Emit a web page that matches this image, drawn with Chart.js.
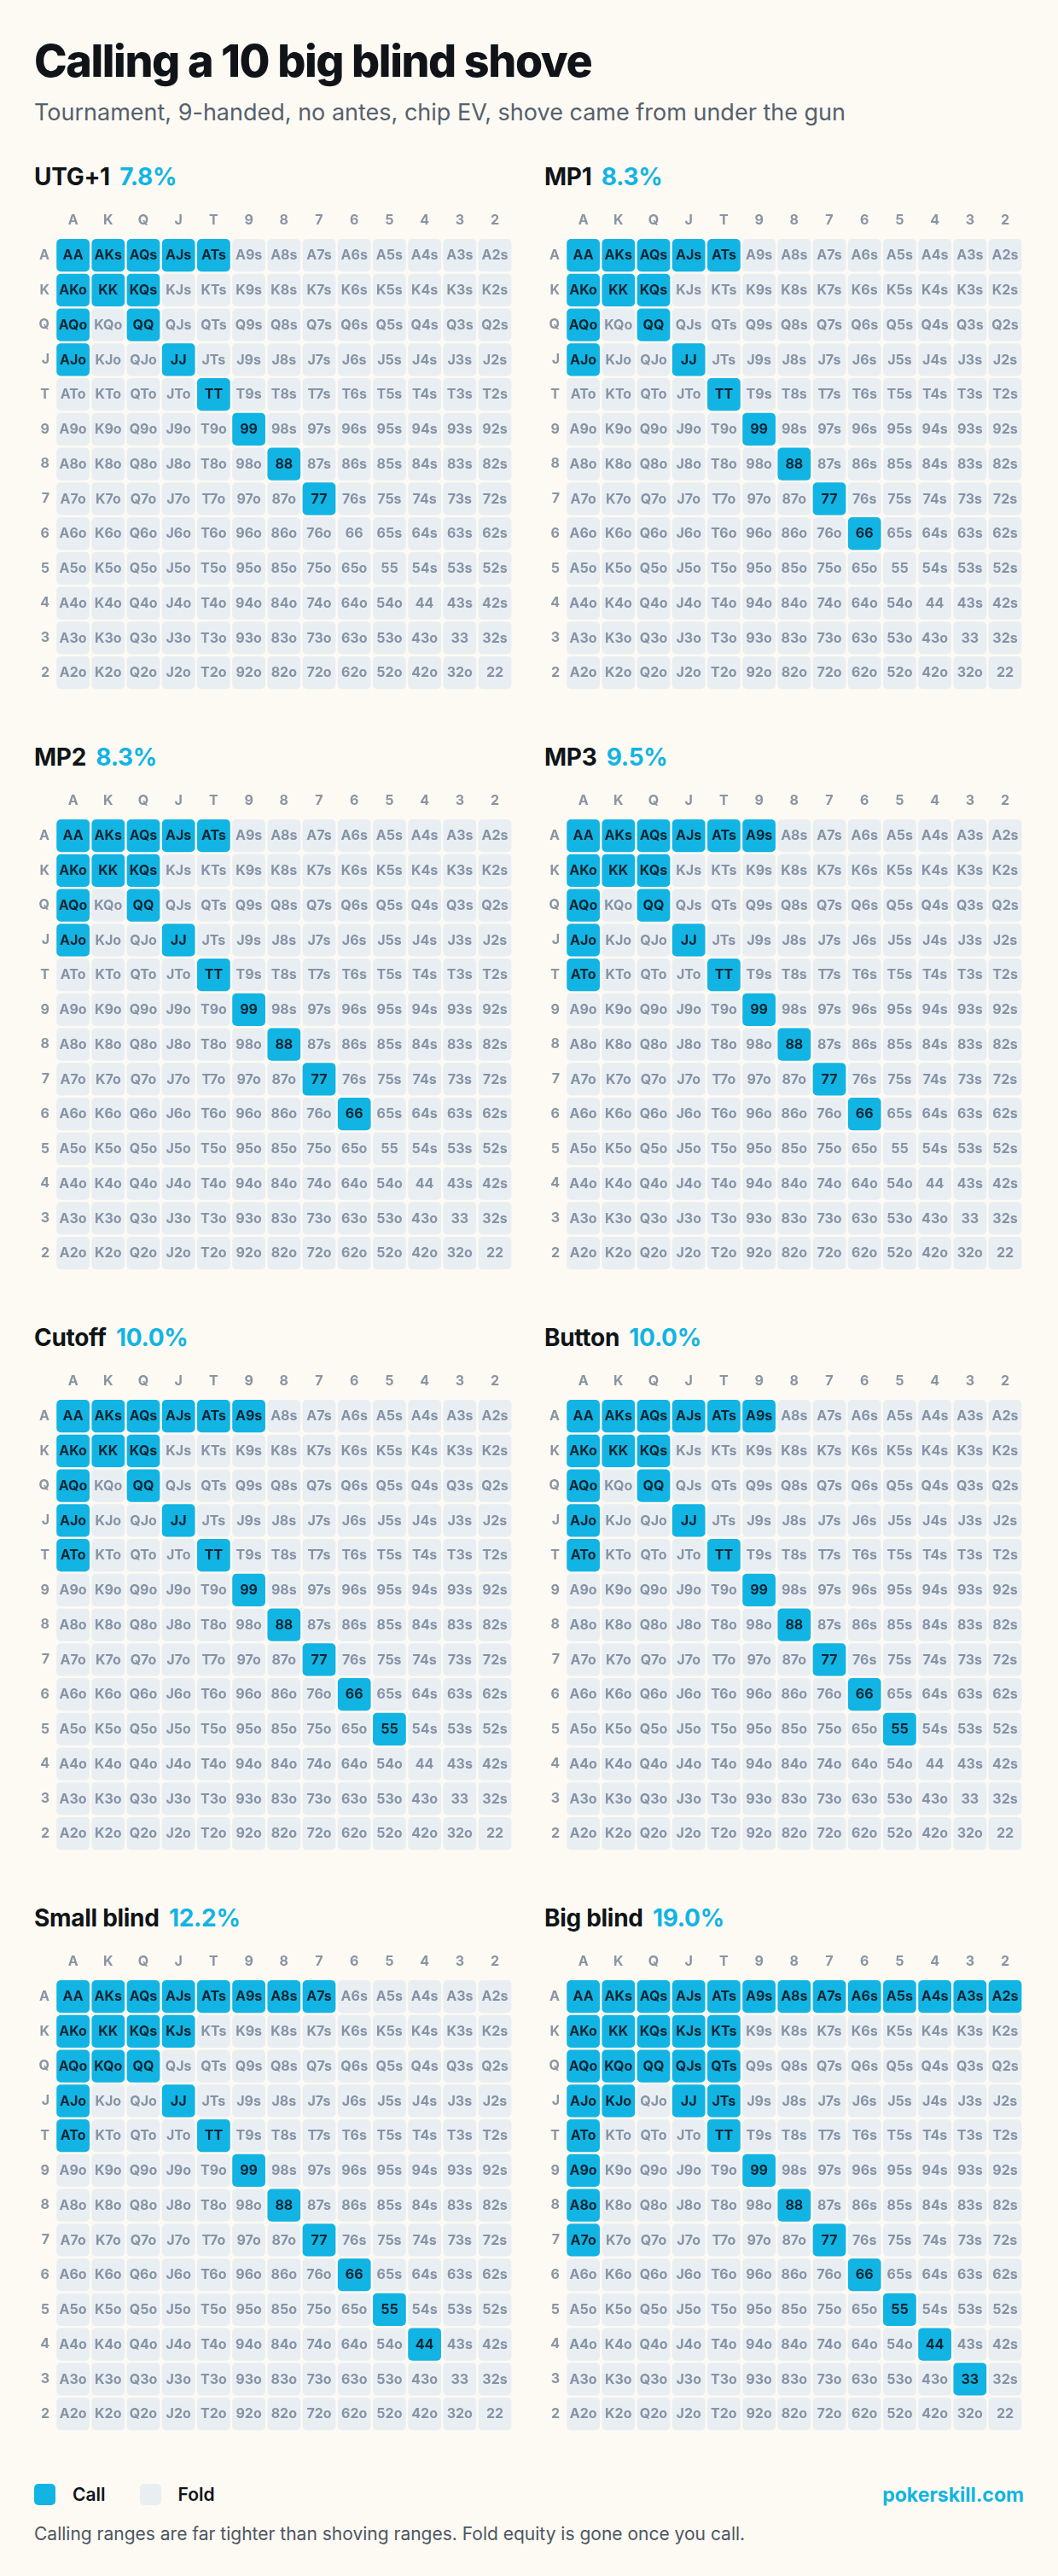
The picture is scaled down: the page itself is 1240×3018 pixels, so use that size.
<!DOCTYPE html>
<html>
<head>
<meta charset="utf-8">
<title>Calling a 10 big blind shove</title>
<script src="https://cdn.jsdelivr.net/npm/chart.js@4.4.1/dist/chart.umd.min.js"></script>
<style>
  html, body { margin: 0; padding: 0; }
  body {
    background: #fcfaf3;
    font-family: Inter, "Noto Sans", "DejaVu Sans", sans-serif;
    color: #101418;
    width: 1240px;
    height: 3018px;
    padding: 46px 0 0 40px;
    box-sizing: border-box;
  }
  h1 {
    margin: 0 0 20px 0;
    font-size: 52px;
    line-height: 52px;
    font-weight: 800;
    letter-spacing: -1.4px;
  }
  .sub {
    margin: 0 0 48px 0;
    font-size: 27px;
    line-height: 27px;
    color: #56606d;
  }
  .grid {
    display: grid;
    grid-template-columns: 562px 562px;
    column-gap: 36px;
    row-gap: 48px;
  }
  .panel h2 {
    margin: 0 0 19px 0;
    font-size: 28px;
    line-height: 28px;
    font-weight: 700;
    letter-spacing: -0.3px;
  }
  .panel h2 span { color: #12b4e3; margin-left: 5px; }
  .panel canvas { display: block; }
  .legend {
    margin-top: 45px;
    width: 1160px;
    height: 25px;
    display: flex;
    align-items: center;
    justify-content: space-between;
  }
  .keys { display: flex; align-items: center; }
  .sw { width: 25px; height: 25px; border-radius: 5px; margin-right: 20px; }
  .key { font-size: 21px; font-weight: 600; margin-right: 40px; }
  .brand { font-size: 23px; font-weight: 700; color: #12b4e3; }
  .note {
    margin-top: 23px;
    font-size: 21px;
    line-height: 21px;
    color: #4e5662;
  }
</style>
</head>
<body>
<h1>Calling a 10 big blind shove</h1>
<div class="sub">Tournament, 9-handed, no antes, chip EV, shove came from under the gun</div>
<div class="grid" id="grid"></div>
<div class="legend">
  <div class="keys">
    <div class="sw" style="background:#12b4e3"></div><span class="key">Call</span>
    <div class="sw" style="background:#e9eef3"></div><span class="key">Fold</span>
  </div>
  <span class="brand">pokerskill.com</span>
</div>
<div class="note">Calling ranges are far tighter than shoving ranges. Fold equity is gone once you call.</div>

<script>
// card ranks, rows and columns of every grid
const ranks = ['A', 'K', 'Q', 'J', 'T', '9', '8', '7', '6', '5', '4', '3', '2'];

// seat of the caller and the share of hands it calls with
const positions = ['UTG+1', 'MP1', 'MP2', 'MP3', 'Cutoff', 'Button', 'Small blind', 'Big blind'];
const callPcts = ['7.8%', '8.3%', '8.3%', '9.5%', '10.0%', '10.0%', '12.2%', '19.0%'];

// hands that call, per seat
const utg1Calls = ['AA', 'KK', 'QQ', 'JJ', 'TT', '99', '88', '77',
  'AKs', 'AQs', 'AJs', 'ATs', 'KQs', 'AKo', 'AQo', 'AJo'];
const mp1Calls = ['AA', 'KK', 'QQ', 'JJ', 'TT', '99', '88', '77', '66',
  'AKs', 'AQs', 'AJs', 'ATs', 'KQs', 'AKo', 'AQo', 'AJo'];
const mp2Calls = ['AA', 'KK', 'QQ', 'JJ', 'TT', '99', '88', '77', '66',
  'AKs', 'AQs', 'AJs', 'ATs', 'KQs', 'AKo', 'AQo', 'AJo'];
const mp3Calls = ['AA', 'KK', 'QQ', 'JJ', 'TT', '99', '88', '77', '66',
  'AKs', 'AQs', 'AJs', 'ATs', 'A9s', 'KQs', 'AKo', 'AQo', 'AJo', 'ATo'];
const coCalls = ['AA', 'KK', 'QQ', 'JJ', 'TT', '99', '88', '77', '66', '55',
  'AKs', 'AQs', 'AJs', 'ATs', 'A9s', 'KQs', 'AKo', 'AQo', 'AJo', 'ATo'];
const btnCalls = ['AA', 'KK', 'QQ', 'JJ', 'TT', '99', '88', '77', '66', '55',
  'AKs', 'AQs', 'AJs', 'ATs', 'A9s', 'KQs', 'AKo', 'AQo', 'AJo', 'ATo'];
const sbCalls = ['AA', 'KK', 'QQ', 'JJ', 'TT', '99', '88', '77', '66', '55', '44',
  'AKs', 'AQs', 'AJs', 'ATs', 'A9s', 'A8s', 'A7s', 'KQs', 'KJs',
  'AKo', 'AQo', 'AJo', 'ATo', 'KQo'];
const bbCalls = ['AA', 'KK', 'QQ', 'JJ', 'TT', '99', '88', '77', '66', '55', '44', '33',
  'AKs', 'AQs', 'AJs', 'ATs', 'A9s', 'A8s', 'A7s', 'A6s', 'A5s', 'A4s', 'A3s', 'A2s',
  'KQs', 'KJs', 'KTs', 'QJs', 'QTs', 'JTs',
  'AKo', 'AQo', 'AJo', 'ATo', 'A9o', 'A8o', 'A7o', 'KQo', 'KJo'];
const callRanges = [utg1Calls, mp1Calls, mp2Calls, mp3Calls, coCalls, btnCalls, sbCalls, bbCalls];

const CALL = '#12b4e3';
const FOLD = '#e9eef3';
const CALL_TEXT = '#0b2634';
const FOLD_TEXT = '#8593a4';
const AXIS_TEXT = '#8a94a2';
const FONT = 'Inter, "Noto Sans", "DejaVu Sans", sans-serif';

Chart.defaults.font.family = FONT;

// pair on the diagonal, suited above it, offsuit below
function handName(r, c) {
  if (r === c) return ranks[r] + ranks[r];
  if (c > r) return ranks[r] + ranks[c] + 's';
  return ranks[c] + ranks[r] + 'o';
}

// write the hand into each cell
const handLabels = {
  id: 'handLabels',
  afterDatasetsDraw(chart) {
    const ctx = chart.ctx;
    const calls = chart.options.plugins.handLabels.calls;
    ctx.save();
    ctx.font = '700 16px ' + FONT;
    ctx.textAlign = 'center';
    ctx.textBaseline = 'middle';
    chart.data.datasets.forEach((ds, r) => {
      chart.getDatasetMeta(r).data.forEach((bar, c) => {
        const { x, y, base } = bar.getProps(['x', 'y', 'base'], true);
        const hand = handName(r, c);
        ctx.fillStyle = calls.includes(hand) ? CALL_TEXT : FOLD_TEXT;
        ctx.fillText(hand, x, (y + base) / 2 + 0.5);
      });
    });
    ctx.restore();
  }
};

const grid = document.getElementById('grid');

positions.forEach((pos, i) => {
  const calls = callRanges[i];

  const panel = document.createElement('div');
  panel.className = 'panel';
  const h2 = document.createElement('h2');
  h2.innerHTML = pos + ' <span>' + callPcts[i] + '</span>';
  const canvas = document.createElement('canvas');
  canvas.width = 562;
  canvas.height = 585;
  canvas.style.width = '562px';
  canvas.style.height = '585px';
  panel.appendChild(h2);
  panel.appendChild(canvas);
  grid.appendChild(panel);

  // one dataset per row, every cell a floating bar around the row index
  const datasets = ranks.map((_, r) => ({
    data: ranks.map(() => [r - 0.47, r + 0.47]),
    backgroundColor: ranks.map((_, c) => calls.includes(handName(r, c)) ? CALL : FOLD),
    borderRadius: 5,
    borderSkipped: false,
    grouped: false,
    barPercentage: 0.94,
    categoryPercentage: 1
  }));

  new Chart(canvas, {
    type: 'bar',
    data: { labels: ranks, datasets },
    options: {
      responsive: false,
      animation: false,
      events: [],
      layout: { padding: { top: 0, left: 0, right: 1.4, bottom: 0 } },
      plugins: {
        legend: { display: false },
        tooltip: { enabled: false },
        handLabels: { calls }
      },
      scales: {
        x: {
          type: 'category',
          position: 'top',
          grid: { display: false, drawTicks: false },
          border: { display: false },
          ticks: { color: AXIS_TEXT, font: { size: 16, weight: '700' }, padding: 11, maxRotation: 0 },
          afterFit: (s) => { s.height = 38.75; }
        },
        y: {
          type: 'linear',
          reverse: true,
          min: -0.5,
          max: 12.5,
          grid: { display: false, drawTicks: false },
          border: { display: false },
          afterBuildTicks: (s) => { s.ticks = ranks.map((_, k) => ({ value: k })); },
          ticks: {
            color: AXIS_TEXT,
            font: { size: 16, weight: '700' },
            padding: 7,
            callback: (v) => ranks[v] ?? ''
          },
          afterFit: (s) => { s.width = 25; }
        }
      }
    },
    plugins: [handLabels]
  });
});
</script>
</body>
</html>
